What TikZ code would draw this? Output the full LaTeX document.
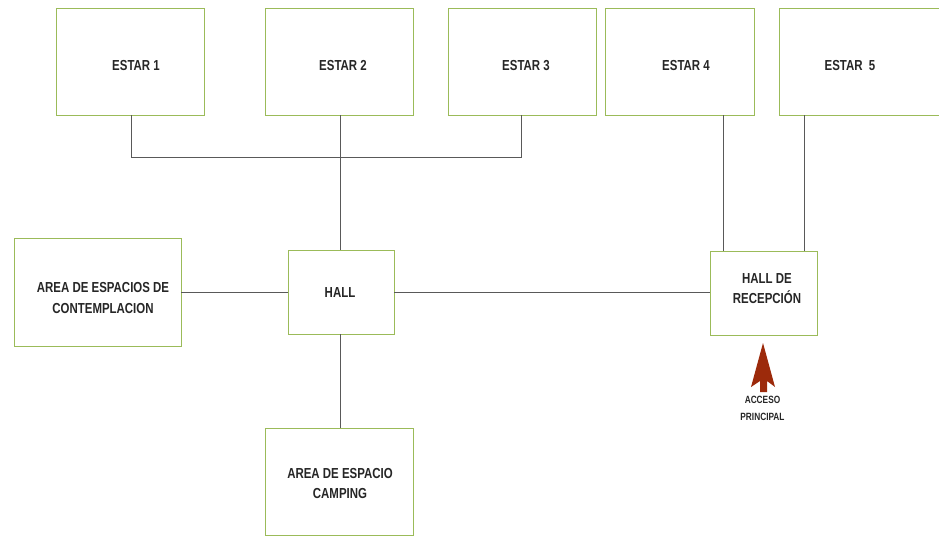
\documentclass[tikz,border=0pt]{standalone}
\usepackage{fontspec}
\setmainfont{Liberation Sans}[FakeStretch=0.79]
\definecolor{boxgreen}{HTML}{9BBB59}
\definecolor{linegray}{HTML}{595959}
\definecolor{arrowred}{HTML}{9C2A0B}
\begin{document}
\begin{tikzpicture}[x=1pt,y=-1pt,
  box/.style={draw=boxgreen, line width=0.8pt, fill=white, inner sep=0pt},
  lbl/.style={font=\bfseries\fontsize{14.5}{20.5}\selectfont, text=black!85, align=center, inner sep=0pt},
  small/.style={font=\bfseries\fontsize{10.5}{17}\selectfont, text=black!85, align=center, inner sep=0pt},
  conn/.style={draw=linegray, line width=0.8pt}]
\useasboundingbox (0,0) rectangle (939,536);
% boxes
\node[box, minimum width=148pt, minimum height=107pt] (e1) at (130,61.5) {};
\node[box, minimum width=148pt, minimum height=107pt] (e2) at (339,61.5) {};
\node[box, minimum width=148pt, minimum height=107pt] (e3) at (522,61.5) {};
\node[box, minimum width=149pt, minimum height=107pt] (e4) at (679.5,61.5) {};
\node[box, minimum width=170pt, minimum height=107pt] (e5) at (864,61.5) {};
\node[box, minimum width=167pt, minimum height=108pt] (aec) at (97.5,292) {};
\node[box, minimum width=106pt, minimum height=84pt] (hall) at (341,292) {};
\node[box, minimum width=107pt, minimum height=84pt] (hr) at (763.5,293) {};
\node[box, minimum width=148pt, minimum height=107pt] (camp) at (339,481.5) {};
% texts
\node[lbl] (t1) at (136,66) {ESTAR 1};
\node[lbl] (t2) at (343,66) {ESTAR 2};
\node[lbl] (t3) at (526,66) {ESTAR 3};
\node[lbl] (t4) at (686,66) {ESTAR 4};
\node[lbl] (t5) at (850,66) {ESTAR\ \ 5};
\node[lbl] (taec) at (103,298) {AREA DE ESPACIOS DE\\CONTEMPLACION};
\node[lbl] (thall) at (340,293) {HALL};
\node[lbl] (thr) at (767,288.5) {HALL DE\\RECEPCIÓN};
\node[lbl] (tcamp) at (340,483.5) {AREA DE ESPACIO\\CAMPING};
% connectors
\coordinate (j1) at (131,157);
\coordinate (j2) at (340,157);
\coordinate (j3) at (521,157);
\draw[conn] (e1.south -| j1) -- (j1) -- (j3) -- (e3.south -| j3);
\draw[conn] (e2.south -| j2) -- (hall.north -| j2);
\draw[conn] (e4.south -| 723,0) -- (hr.north -| 723,0);
\draw[conn] (e5.south -| 804,0) -- (hr.north -| 804,0);
\draw[conn] (hall.west) -- (aec.east |- hall.west);
\draw[conn] (hall.east) -- (hr.west |- hall.east);
\draw[conn] (hall.south -| j2) -- (camp.north -| j2);
% access arrow
\fill[arrowred] (763,343) -- (775,387) -- (767,381) -- (767,392) -- (760,392) -- (760,381) -- (751,387) -- cycle;
\node[small] (acc) at (762.5,408.5) {ACCESO\\PRINCIPAL};
\end{tikzpicture}
\end{document}
